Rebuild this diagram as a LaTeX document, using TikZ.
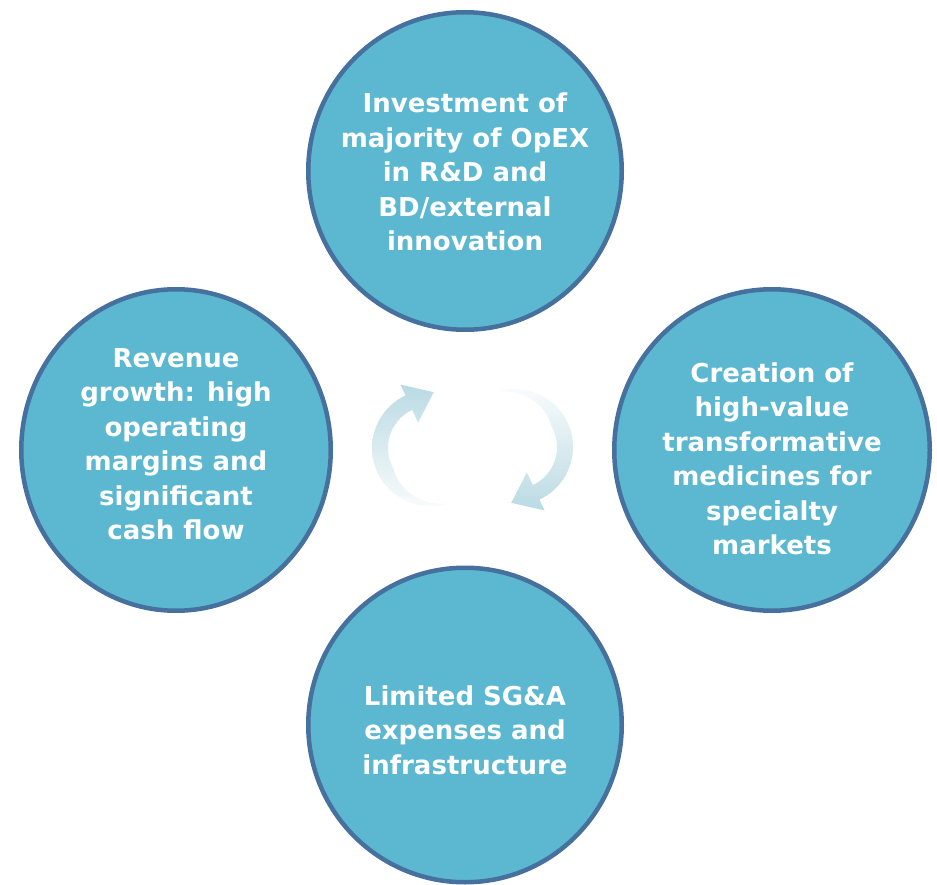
\documentclass[tikz,border=0pt]{standalone}
\usepackage{fontspec}
\setmainfont{DejaVu Sans}
\usetikzlibrary{shapes.geometric}
\definecolor{cfill}{RGB}{91,184,208}
\definecolor{cline}{RGB}{70,112,158}
\definecolor{carrow}{RGB}{186,218,227}
\begin{document}
\begin{tikzpicture}[x=1pt,y=-1pt,
  bubble/.style={ellipse, draw=cline, line width=4.5pt, fill=cfill, inner sep=0pt},
  btext/.style={text=white, font=\fontsize{26}{34.5}\selectfont\bfseries, align=center, inner sep=0pt}]
\useasboundingbox (0,0) rectangle (937,885);
% circles
\node[bubble, minimum width=313.5pt, minimum height=317.5pt] (top) at (465,171) {};
\node[bubble, minimum width=309.5pt, minimum height=321.5pt] (left) at (176,450) {};
\node[bubble, minimum width=315.5pt, minimum height=321.5pt] (right) at (772,450) {};
\node[bubble, minimum width=313.5pt, minimum height=314.5pt] (bottom) at (465,725) {};
% texts
\node[btext] (toptext) at (465,172) {Investment of\\majority of OpEX\\in R\&D and\\BD/external\\innovation};
\node[btext] (lefttext) at (176,444) {Revenue\\growth: high\\operating\\margins and\\significant\\cash flow};
\node[btext] (righttext) at (772,459) {Creation of\\high-value\\transformative\\medicines for\\specialty\\markets};
\node[btext] (bottomtext) at (465,730) {Limited SG\&A\\expenses and\\infrastructure};
% central cycle arrows
\shade[top color=carrow, middle color=carrow!92, bottom color=carrow!10]
  plot[domain=73:245, samples=40] ({430+58*cos(\x)},{448+58*sin(\x)})
  -- ({430+70*cos(245)},{448+70*sin(245)})
  -- ({430+49*cos(245)-27*sin(245)},{448+49*sin(245)+27*cos(245)})
  -- ({430+28*cos(245)},{448+28*sin(245)})
  -- plot[domain=245:150, samples=30] ({430+42*cos(\x)},{448+42*sin(\x)})
  -- plot[domain=150:73, samples=30] ({430+(58-16*(\x-73)/77)*cos(\x)},{448+(58-16*(\x-73)/77)*sin(\x)})
  -- cycle;
\shade[bottom color=carrow, middle color=carrow!92, top color=carrow!10]
  plot[domain=253:425, samples=40] ({515+58*cos(\x)},{447+58*sin(\x)})
  -- ({515+70*cos(425)},{447+70*sin(425)})
  -- ({515+49*cos(425)-27*sin(425)},{447+49*sin(425)+27*cos(425)})
  -- ({515+28*cos(425)},{447+28*sin(425)})
  -- plot[domain=425:330, samples=30] ({515+42*cos(\x)},{447+42*sin(\x)})
  -- plot[domain=330:253, samples=30] ({515+(58-16*(\x-253)/77)*cos(\x)},{447+(58-16*(\x-253)/77)*sin(\x)})
  -- cycle;
\end{tikzpicture}
\end{document}
